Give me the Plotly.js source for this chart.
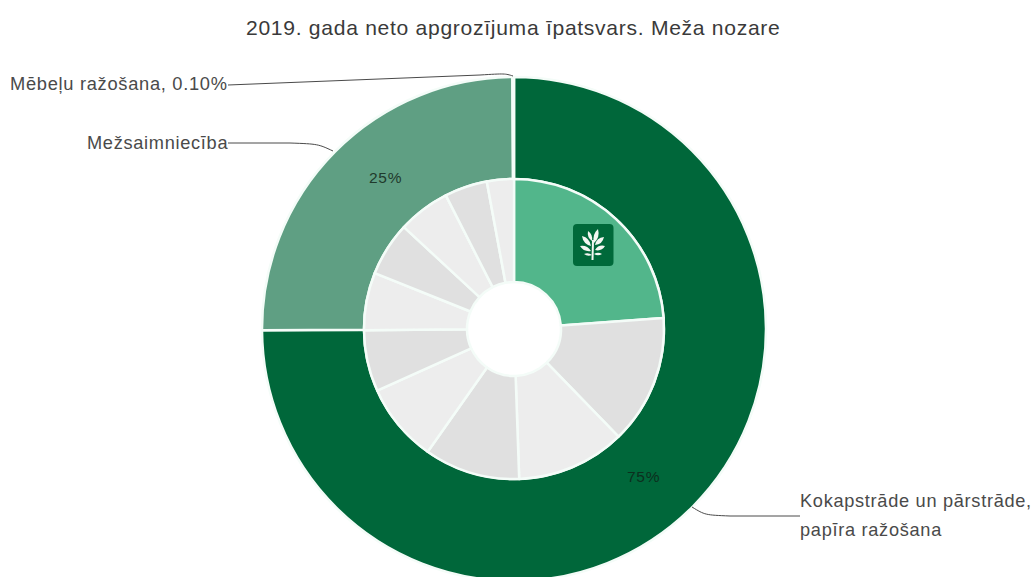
<!DOCTYPE html>
<html>
<head>
<meta charset="utf-8">
<script src="https://cdn.plot.ly/plotly-3.0.1.min.js"></script>
<style>html,body{margin:0;padding:0;background:#fff;overflow:hidden;width:1035px;height:577px}#chart{width:1035px;height:640px}#chart .annotation-text{letter-spacing:.7px}</style>
</head>
<body>
<div id="chart"></div>
<script>
const titleText = '2019. gada neto apgrozījuma īpatsvars. Meža nozare';
const outerLabels = ['Kokapstrāde un pārstrāde, papīra ražošana', 'Mežsaimniecība', 'Mēbeļu ražošana'];
const outerValues = [75, 25, 0.1];
const outerColors = ['#00673a', '#5f9f83', '#00673a'];
const innerLabels = ['Meža nozare', 'Nozare 2', 'Nozare 3', 'Nozare 4', 'Nozare 5', 'Nozare 6', 'Nozare 7', 'Nozare 8', 'Nozare 9', 'Nozare 10', 'Nozare 11'];
const innerValues = [23.8, 13.9, 11.7, 10.3, 8.5, 6.6, 6.2, 5.8, 5.6, 4.6, 2.9];
const innerColors = ['#52b68b', '#e0e0e0', '#ededed', '#e0e0e0', '#ededed', '#e0e0e0', '#ededed', '#e0e0e0', '#ededed', '#e0e0e0', '#ededed'];

const W = 1035, H = 640;
const cx = 514, cy = 329, R = 252, Rm = 150, Rh = 47;
const px = x => x / W;
const py = y => 1 - y / H;
const P = (x, y) => px(x) + ' ' + py(y);
const domain = r => ({x: [px(cx - r), px(cx + r)], y: [py(cy + r), py(cy - r)]});
const font = 'Arial, "Liberation Sans", sans-serif';
const stroke = '#f4fcf8';

const traces = [
  {type: 'pie', labels: outerLabels, values: outerValues, sort: false, direction: 'clockwise', rotation: 0,
   hole: Rm / R, domain: domain(R), textinfo: 'none', hoverinfo: 'skip', showlegend: false,
   marker: {colors: outerColors, line: {color: stroke, width: 2.5}}},
  {type: 'pie', labels: innerLabels, values: innerValues, sort: false, direction: 'clockwise', rotation: 0,
   hole: Rh / Rm, domain: domain(Rm), textinfo: 'none', hoverinfo: 'skip', showlegend: false,
   marker: {colors: innerColors, line: {color: stroke, width: 2.5}}}
];

const textAt = (x, y, text, size, color, anchor) => ({
  xref: 'paper', yref: 'paper', x: px(x), y: py(y), text, showarrow: false,
  xanchor: anchor, yanchor: 'middle', align: 'left',
  font: {family: font, size, color}
});

const annotations = [
  textAt(496, 28, titleText, 21.1, '#3a3a3a', 'center'),
  textAt(214, 84, 'Mēbeļu ražošana, 0.10%', 18.3, '#4a4a4a', 'right'),
  textAt(221, 143, 'Mežsaimniecība', 18.2, '#4a4a4a', 'right'),
  textAt(798, 501, 'Kokapstrāde un pārstrāde,', 18.2, '#4a4a4a', 'left'),
  textAt(798, 530, 'papīra ražošana', 18.2, '#4a4a4a', 'left'),
  textAt(384, 177, '25%', 15.5, '#1f3a2c', 'center'),
  textAt(642.5, 476, '75%', 15.5, '#0c2f1e', 'center')
];

const leaf = (bx, by, tx, ty, w) => {
  const mx = (bx + tx) / 2, my = (by + ty) / 2;
  const dx = tx - bx, dy = ty - by, l = Math.hypot(dx, dy);
  const nx = -dy / l * w, ny = dx / l * w;
  return 'M ' + P(bx, by) + ' Q ' + P(mx + nx, my + ny) + ' ' + P(tx, ty) + ' Q ' + P(mx - nx, my - ny) + ' ' + P(bx, by) + ' Z';
};
const leafShape = (a, b, c, d, w) => ({type: 'path', xref: 'paper', yref: 'paper', path: leaf(a, b, c, d, w), fillcolor: '#f4f7f2', line: {width: 0}});
const curve = (x0, y0, x1, y1, x2, y2, x3, y3) => ({
  type: 'path', xref: 'paper', yref: 'paper',
  path: 'M ' + P(x0, y0) + ' L ' + P(x1, y1) + ' C ' + P(x2, y2) + ' ' + P(x2, y2) + ' ' + P(x3, y3),
  line: {color: '#4a4a4a', width: 1}, fillcolor: 'rgba(0,0,0,0)'
});
const rr = (x0, y0, x1, y1, r) => 'M ' + P(x0 + r, y0) + ' L ' + P(x1 - r, y0) + ' Q ' + P(x1, y0) + ' ' + P(x1, y0 + r) +
  ' L ' + P(x1, y1 - r) + ' Q ' + P(x1, y1) + ' ' + P(x1 - r, y1) + ' L ' + P(x0 + r, y1) + ' Q ' + P(x0, y1) + ' ' + P(x0, y1 - r) +
  ' L ' + P(x0, y0 + r) + ' Q ' + P(x0, y0) + ' ' + P(x0 + r, y0) + ' Z';

const shapes = [
  curve(228, 85, 480, 75, 505, 73.5, 513, 76),
  curve(228, 143, 290, 143, 318, 144, 333, 151),
  curve(800, 516, 730, 516, 705, 515, 692, 507),
  {type: 'path', xref: 'paper', yref: 'paper', path: rr(573, 224, 613.5, 266, 4), fillcolor: '#00693a', line: {width: 0}},
  {type: 'path', xref: 'paper', yref: 'paper', path: 'M ' + P(592.5, 260) + ' L ' + P(593, 240), line: {color: '#f4f7f2', width: 2}},
  leafShape(594, 243, 598, 229, 4.5),
  leafShape(592, 241, 588, 231, 3.5),
  leafShape(591, 246, 582, 236, 4.5),
  leafShape(595, 245, 604, 237, 4.5),
  leafShape(591, 251, 580, 246, 4),
  leafShape(595, 250, 605, 246, 4),
  leafShape(592, 255, 584, 254, 2.5),
  leafShape(594, 254, 602, 254, 2.5)
];

Plotly.newPlot('chart', traces, {
  width: W, height: H, margin: {l: 0, r: 0, t: 0, b: 0},
  paper_bgcolor: '#ffffff', plot_bgcolor: '#ffffff',
  font: {family: font}, showlegend: false,
  annotations, shapes
}, {displayModeBar: false, staticPlot: true});
</script>
</body>
</html>
